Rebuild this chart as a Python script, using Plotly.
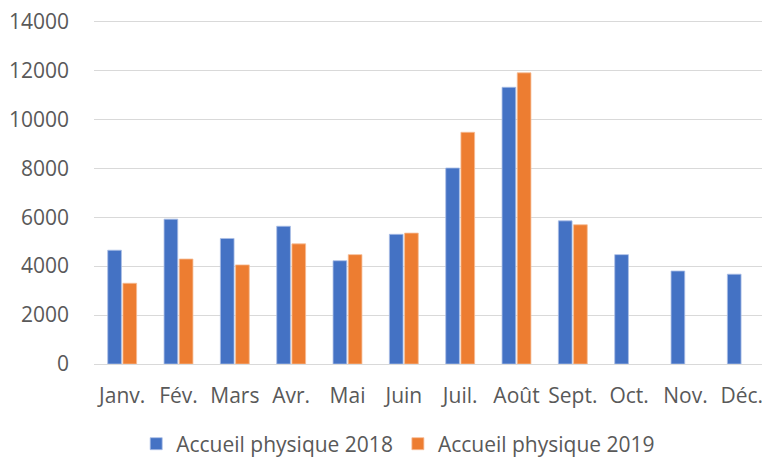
import plotly.graph_objects as go

months = ["Janv.", "Fév.", "Mars", "Avr.", "Mai", "Juin", "Juil.", "Août", "Sept.", "Oct.", "Nov.", "Déc."]
accueil_2018 = [4650, 5920, 5130, 5630, 4220, 5300, 8010, 11310, 5850, 4470, 3800, 3670]
accueil_2019 = [3300, 4290, 4050, 4910, 4470, 5350, 9470, 11900, 5690, None, None, None]

y_ticks = [0, 2000, 4000, 6000, 8000, 10000, 12000, 14000]
y_labels = [str(v) for v in y_ticks]

blue = "#4472C4"
orange = "#ED7D31"

fig = go.Figure()
fig.add_trace(go.Bar(x=months, y=accueil_2018, name="Accueil physique 2018",
                     marker=dict(color=blue, line=dict(color="#A9BEE6", width=0.8))))
fig.add_trace(go.Bar(x=months, y=accueil_2019, name="Accueil physique 2019",
                     marker=dict(color=orange, line=dict(color="#F6BC96", width=0.8))))

# page body has an 8px margin, so the figure is a bit smaller than the window
fig.update_layout(
    width=762, height=451,
    margin=dict(l=86, r=0, t=10.5, b=95, autoexpand=False),
    paper_bgcolor="white", plot_bgcolor="white",
    font=dict(family="Open Sans, Lato, sans-serif", size=21, color="#595959"),
    barmode="group", bargap=0.46, bargroupgap=0.1,
    showlegend=True,
    legend=dict(orientation="h", x=0.45, xanchor="center", y=-0.232, yanchor="middle",
                font=dict(size=21, color="#595959"), itemwidth=30, traceorder="normal"),
)
fig.update_xaxes(showgrid=False, showline=False, ticks="", tickfont=dict(size=21),
                 automargin=False, ticklabelstandoff=17)
# range goes a little past 14000 so the top gridline is not clipped
fig.update_yaxes(range=[0, 14100], tickvals=y_ticks, ticktext=y_labels, showgrid=True,
                 gridcolor="#D9D9D9", gridwidth=1.3, zeroline=True, zerolinecolor="#D9D9D9",
                 zerolinewidth=1.3, showline=False, ticks="", ticklabelstandoff=24,
                 tickfont=dict(size=21), automargin=False, ticklabeloverflow="allow")

fig.write_html("out.html")
